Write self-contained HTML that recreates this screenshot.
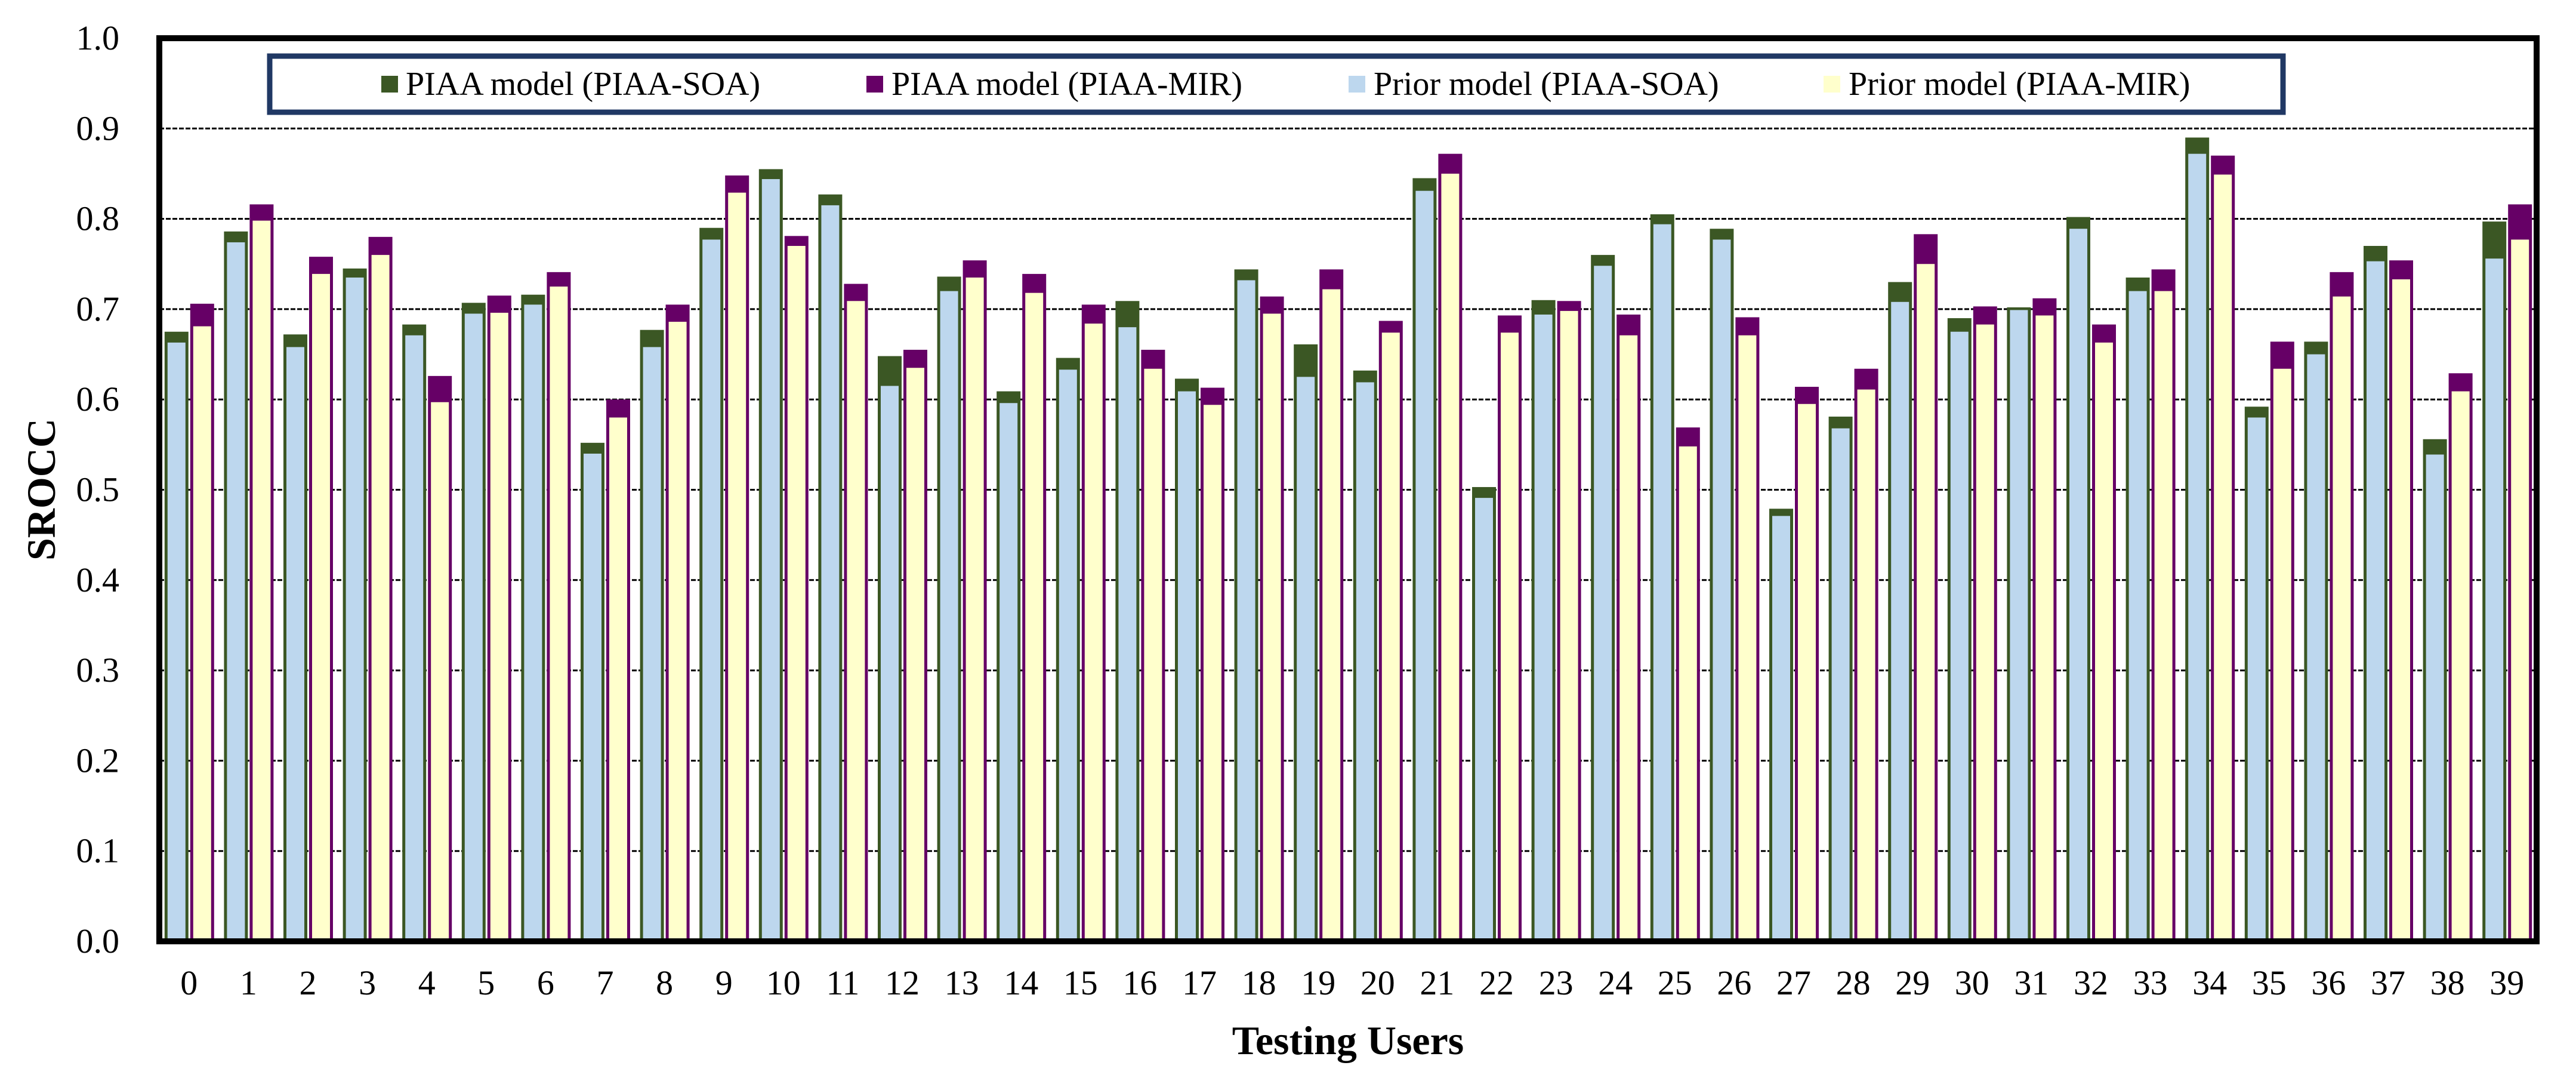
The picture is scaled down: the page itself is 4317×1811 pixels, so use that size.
<!DOCTYPE html>
<html><head><meta charset="utf-8">
<style>
html,body{margin:0;padding:0;background:#fff;}
svg{display:block;}
text{font-family:"Liberation Serif",serif;}
</style></head>
<body>
<svg id="chart" width="4317" height="1811" viewBox="0 0 4317 1811" xmlns="http://www.w3.org/2000/svg">
  <g id="grid"></g>
  <g id="bars"></g>
  <rect x="267" y="64" width="3984" height="1513" fill="none" stroke="#000" stroke-width="10"/>
  <g id="yticks"></g>
  <g id="xticks"></g>
  <text transform="translate(92,820) rotate(-90)" text-anchor="middle" font-size="68" font-weight="bold">SROCC</text>
  <text x="2259" y="1766" text-anchor="middle" font-size="68" font-weight="bold">Testing Users</text>
  <g>
    <rect x="452" y="94" width="3374" height="94" fill="#fff" stroke="#203864" stroke-width="9"/>
    <g>
      <rect x="639" y="127" width="28" height="28" fill="#3b5724"/>
      <text x="680" y="159" font-size="56">PIAA model (PIAA-SOA)</text>
    </g>
    <g>
      <rect x="1452" y="127" width="28" height="28" fill="#660066"/>
      <text x="1494" y="159" font-size="56">PIAA model (PIAA-MIR)</text>
    </g>
    <g>
      <rect x="2260" y="127" width="28" height="28" fill="#bdd7ee"/>
      <text x="2302" y="159" font-size="56">Prior model (PIAA-SOA)</text>
    </g>
    <g>
      <rect x="3056" y="127" width="28" height="28" fill="#ffffcc"/>
      <text x="3098" y="159" font-size="56">Prior model (PIAA-MIR)</text>
    </g>
  </g>
</svg>
<script>
const users = [0,1,2,3,4,5,6,7,8,9,10,11,12,13,14,15,16,17,18,19,20,21,22,23,24,25,26,27,28,29,30,31,32,33,34,35,36,37,38,39];
const priorSOA = [0.663,0.774,0.658,0.735,0.671,0.695,0.705,0.540,0.658,0.777,0.844,0.815,0.615,0.720,0.596,0.633,0.680,0.609,0.732,0.625,0.619,0.831,0.491,0.694,0.748,0.794,0.777,0.471,0.568,0.708,0.675,0.699,0.789,0.720,0.872,0.580,0.650,0.753,0.539,0.756];
const piaaSOA = [0.675,0.786,0.672,0.745,0.683,0.707,0.716,0.552,0.677,0.790,0.855,0.827,0.648,0.736,0.609,0.646,0.709,0.623,0.744,0.661,0.632,0.845,0.503,0.710,0.760,0.805,0.789,0.479,0.581,0.730,0.690,0.702,0.802,0.735,0.890,0.592,0.664,0.770,0.556,0.797];
const priorMIR = [0.681,0.798,0.739,0.760,0.597,0.696,0.725,0.580,0.686,0.829,0.770,0.709,0.635,0.735,0.718,0.684,0.634,0.594,0.695,0.722,0.674,0.850,0.674,0.698,0.671,0.548,0.671,0.595,0.611,0.750,0.683,0.693,0.663,0.720,0.849,0.634,0.714,0.733,0.609,0.777];
const piaaMIR = [0.706,0.816,0.758,0.780,0.626,0.715,0.741,0.600,0.705,0.848,0.781,0.728,0.655,0.754,0.739,0.705,0.655,0.613,0.714,0.744,0.687,0.872,0.693,0.709,0.694,0.569,0.691,0.614,0.634,0.783,0.703,0.712,0.683,0.744,0.870,0.664,0.741,0.754,0.629,0.816];
const yTicks = [0.0,0.1,0.2,0.3,0.4,0.5,0.6,0.7,0.8,0.9,1.0];

const NS = "http://www.w3.org/2000/svg";
const X0 = 267, X1 = 4251, Y0 = 1577, Y1 = 64;
const slot = (X1 - X0) / users.length;
function yScale(v){ return Y0 - (Y0 - Y1) * v; }
function xCenter(i){ return X0 + slot * (i + 0.5); }
function mk(tag, attrs, parent){
  const e = document.createElementNS(NS, tag);
  for (const k in attrs) e.setAttribute(k, attrs[k]);
  parent.appendChild(e);
  return e;
}
const grid = document.getElementById('grid');
const yt = document.getElementById('yticks');
yTicks.forEach(t => {
  const y = yScale(t);
  if (t > 0 && t < 1) {
    const l = mk('line', {x1:X0, x2:X1, y1:y, y2:y, stroke:'#000', 'stroke-width':3, 'stroke-dasharray':'8,3'}, grid);
    
    
  }
  const tx = mk('text', {x:200, y:y+19, 'text-anchor':'end', 'font-size':58}, yt);
  tx.textContent = t.toFixed(1);
  
  
});
const bars = document.getElementById('bars');
const xt = document.getElementById('xticks');
const BW = 40, SW = 5;
function drawBar(x, prior, piaa, outer, inner, name){
  const g = mk('g', {}, bars);
  
  
  const top = yScale(Math.max(prior, piaa));
  mk('rect', {x:x, y:top, width:BW, height:Y0 - top, fill:outer}, g);
  const pt = yScale(prior);
  mk('rect', {x:x+SW, y:pt, width:BW-2*SW, height:Y0 - pt, fill:inner}, g);
}
users.forEach((u, i) => {
  const c = xCenter(i);
  drawBar(c - 41, priorSOA[i], piaaSOA[i], '#3b5724', '#bdd7ee', 'bar-soa-user-' + u);
  drawBar(c + 2, priorMIR[i], piaaMIR[i], '#660066', '#ffffcc', 'bar-mir-user-' + u);
  const tx = mk('text', {x:c, y:1666, 'text-anchor':'middle', 'font-size':58}, xt);
  tx.textContent = String(u);
  
  
});
</script>
</body></html>
